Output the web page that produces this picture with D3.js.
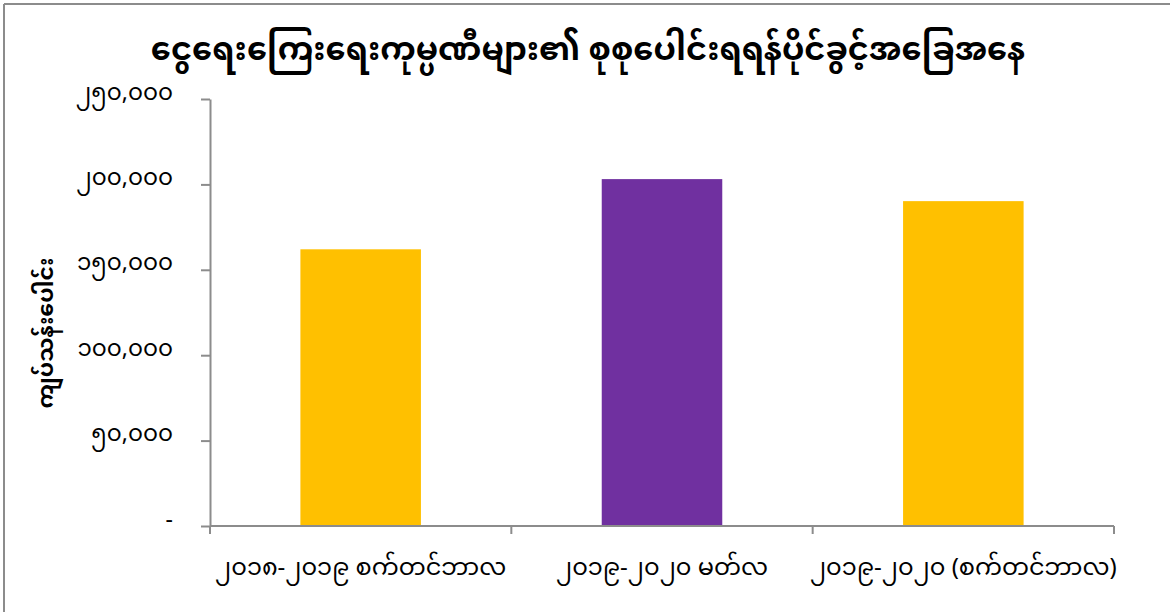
<!DOCTYPE html>
<html>
<head>
<meta charset="utf-8">
<script src="https://cdn.jsdelivr.net/npm/d3@7"></script>
<style>
  html, body { margin: 0; padding: 0; background: #fff; }
  svg { display: block; }
  text { font-family: "Noto Sans Myanmar", "Myanmar Text", "Padauk", "Noto Sans", sans-serif; }
</style>
</head>
<body>
<svg id="chart" width="1170" height="612"></svg>
<script>
const title = "ငွေရေးကြေးရေးကုမ္ပဏီများ၏ စုစုပေါင်းရရန်ပိုင်ခွင့်အခြေအနေ";
const yTitle = "ကျပ်သန်းပေါင်း";
const categories = ["၂၀၁၈-၂၀၁၉ စက်တင်ဘာလ", "၂၀၁၉-၂၀၂၀ မတ်လ", "၂၀၁၉-၂၀၂၀ (စက်တင်ဘာလ)"];
const values = [162000, 203100, 190200];
const barColors = ["#FFC000", "#7030A0", "#FFC000"];
const yTicks = [0, 50000, 100000, 150000, 200000, 250000];
const yTickLabels = ["-", "၅၀,၀၀၀", "၁၀၀,၀၀၀", "၁၅၀,၀၀၀", "၂၀၀,၀၀၀", "၂၅၀,၀၀၀"];

const svg = d3.select("#chart");
const margin = { left: 210, right: 56, top: 99, bottom: 86 };
const W = 1170, H = 612;

// outer border (top & left visible)
svg.append("line").attr("x1", 4).attr("x2", W).attr("y1", 4).attr("y2", 4)
  .attr("stroke", "#8c8c8c").attr("stroke-width", 2);
svg.append("line").attr("x1", 4).attr("x2", 4).attr("y1", 4).attr("y2", H)
  .attr("stroke", "#8c8c8c").attr("stroke-width", 2);

const y = d3.scaleLinear().domain([0, 250000]).range([H - margin.bottom, margin.top]);
const x = d3.scaleBand().domain(categories).range([margin.left, W - margin.right])
  .paddingInner(0.6).paddingOuter(0.3);
const xEdges = d3.scaleBand().domain(categories).range([margin.left, W - margin.right]).padding(0);

// bars
svg.selectAll("rect.bar").data(values).join("rect")
  .attr("class", "bar")
  .attr("x", (d, i) => x(categories[i]))
  .attr("width", x.bandwidth())
  .attr("y", d => y(d))
  .attr("height", d => y(0) - y(d))
  .attr("fill", (d, i) => barColors[i]);

// y axis
const yAxis = d3.axisLeft(y).tickValues(yTicks)
  .tickFormat((d, i) => yTickLabels[i]).tickSize(9).tickSizeOuter(0).tickPadding(28);
const gy = svg.append("g").attr("transform", `translate(${margin.left},0)`).call(yAxis);
gy.select(".domain").attr("stroke", "#8c8c8c").attr("stroke-width", 2);
gy.selectAll(".tick line").attr("stroke", "#8c8c8c").attr("stroke-width", 2);
gy.selectAll(".tick text").attr("font-size", 23).attr("fill", "#000").attr("dy", "0em");

// x axis
const gx = svg.append("g").attr("transform", `translate(0,${y(0)})`);
gx.append("line").attr("x1", margin.left).attr("x2", W - margin.right)
  .attr("stroke", "#8c8c8c").attr("stroke-width", 2);
const edges = categories.map(c => xEdges(c)).concat([W - margin.right]);
gx.selectAll("line.edge").data(edges).join("line").attr("class", "edge")
  .attr("x1", d => d).attr("x2", d => d).attr("y1", 0).attr("y2", 8)
  .attr("stroke", "#8c8c8c").attr("stroke-width", 2);
gx.selectAll("text.cat").data(categories).join("text").attr("class", "cat")
  .attr("x", d => xEdges(d) + xEdges.bandwidth() / 2)
  .attr("y", 49)
  .attr("text-anchor", "middle")
  .attr("font-size", 24)
  .attr("fill", "#000")
  .text(d => d);

// title
svg.append("text").attr("x", 588).attr("y", 60).attr("text-anchor", "middle")
  .attr("font-size", 32).attr("font-weight", "bold").attr("fill", "#000").text(title);

// y title
svg.append("text").attr("transform", `translate(48,333) rotate(-90)`)
  .attr("text-anchor", "middle").attr("dominant-baseline", "central")
  .attr("font-size", 22).attr("font-weight", "bold").attr("fill", "#000").text(yTitle);
</script>
</body>
</html>
